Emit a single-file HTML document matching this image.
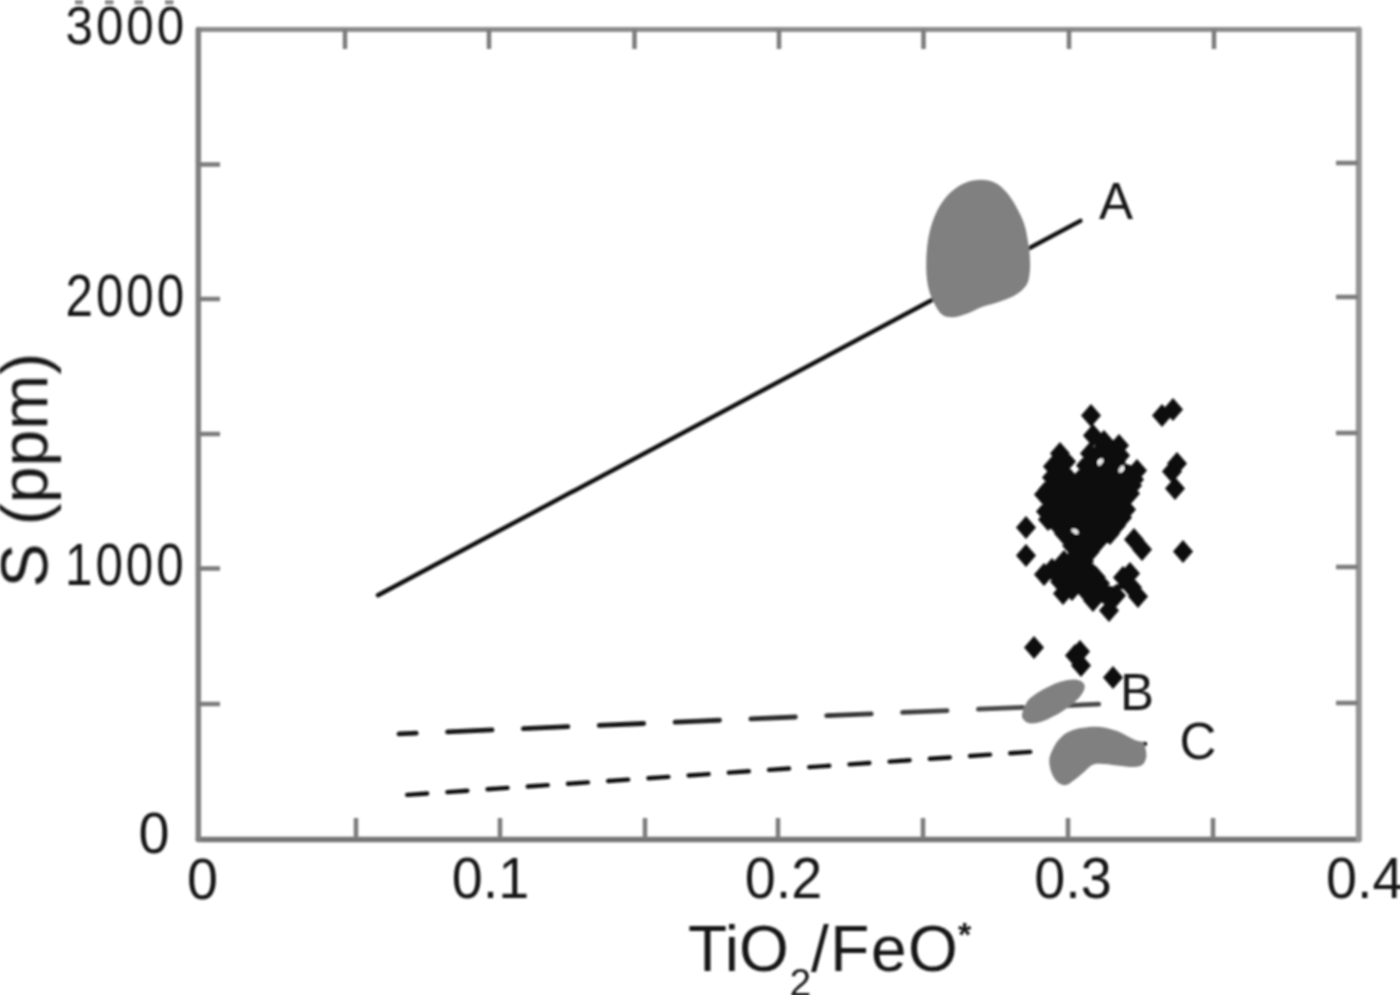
<!DOCTYPE html>
<html><head><meta charset="utf-8"><title>S vs TiO2/FeO*</title>
<style>
html,body{margin:0;padding:0;background:#fff;width:1400px;height:995px;overflow:hidden}
svg{display:block}
text{font-family:"Liberation Sans",Arial,Helvetica,sans-serif}
</style></head><body>
<svg width="1400" height="995" viewBox="0 0 1400 995">
<defs><filter id="soft" x="-2%" y="-2%" width="104%" height="104%"><feGaussianBlur stdDeviation="1.3"/></filter><linearGradient id="gB" gradientUnits="userSpaceOnUse" x1="600" y1="0" x2="1000" y2="0"><stop offset="0" stop-color="#141414"/><stop offset="1" stop-color="#4a4a4a"/></linearGradient></defs>
<rect width="1400" height="995" fill="#fff"/>
<g filter="url(#soft)">
<!-- faint marks at top -->
<g fill="#8c8c8c">
<rect x="75" y="0" width="8" height="4.5"/><rect x="105" y="0" width="8.5" height="4.5"/>
<rect x="134.5" y="0" width="8.5" height="4.5"/><rect x="165" y="0" width="8.5" height="4.5"/>
</g>
<!-- lines A, B, C -->
<g id="lines" fill="none" stroke="#111" stroke-width="4.4" stroke-linecap="round">
<line x1="378" y1="595.3" x2="1080.4" y2="220.9" stroke-linecap="round"/>
<line id="lB" stroke="url(#gB)" stroke-width="4.8" x1="399" y1="733.9" x2="1101" y2="704" stroke-dasharray="44.5 31.4" stroke-dashoffset="27.3"/>
<line id="lC" x1="405" y1="795" x2="1036" y2="751.5" stroke-dasharray="20 20.3" stroke-dashoffset="-2.2"/>
<line x1="1070" y1="749.2" x2="1145" y2="744"/>
</g>
<!-- gray fields -->
<g id="blobs" fill="#808080">
<path id="blobA" d="M981.0,179.7 C986.1,179.7 991.1,180.7 995.4,182.9 C999.7,185.0 1003.2,188.5 1006.7,192.5 C1010.2,196.5 1013.4,201.6 1016.4,207.0 C1019.3,212.4 1022.4,218.5 1024.4,224.7 C1026.4,230.9 1027.5,238.1 1028.4,244.0 C1029.4,249.9 1029.8,255.0 1030.0,260.1 C1030.2,265.2 1030.2,270.3 1029.5,274.6 C1028.9,278.9 1028.5,282.3 1026.0,285.8 C1023.5,289.3 1019.3,292.8 1014.7,295.5 C1010.2,298.2 1004.0,300.0 998.7,301.9 C993.3,303.8 987.7,304.9 982.6,306.7 C977.5,308.6 972.9,311.4 968.1,313.2 C963.3,314.9 957.9,316.9 953.6,317.2 C949.3,317.5 945.6,317.1 942.3,314.8 C939.1,312.5 936.6,307.8 934.3,303.5 C932.0,299.2 930.0,294.7 928.7,289.0 C927.3,283.4 926.5,276.7 926.3,269.7 C926.0,262.8 926.3,254.5 927.1,247.2 C927.9,240.0 929.1,233.0 931.1,226.3 C933.1,219.6 935.9,212.6 939.1,207.0 C942.3,201.4 946.1,196.5 950.4,192.5 C954.7,188.5 959.8,185.0 964.9,182.9 C970.0,180.7 975.9,179.7 981.0,179.7Z"/>
<path id="blobB" d="M1022.9,718.8 C1024.0,720.4 1026.1,722.9 1029.3,723.3 C1032.5,723.8 1037.8,722.7 1042.1,721.4 C1046.4,720.1 1051.2,717.6 1055.0,715.6 C1058.7,713.7 1061.6,711.9 1064.6,709.8 C1067.6,707.8 1070.3,705.8 1073.0,703.4 C1075.7,701.1 1078.8,698.3 1080.7,695.7 C1082.6,693.1 1084.2,690.2 1084.6,688.0 C1084.9,685.7 1084.3,683.6 1082.6,682.2 C1080.9,680.8 1077.8,679.7 1074.3,679.6 C1070.7,679.5 1065.7,680.4 1061.4,681.6 C1057.1,682.7 1052.3,685.0 1048.6,686.7 C1044.8,688.4 1042.1,689.8 1038.9,691.9 C1035.7,693.9 1031.6,696.6 1029.3,698.9 C1026.9,701.3 1026.0,703.5 1024.8,706.0 C1023.6,708.5 1022.5,711.6 1022.2,713.7 C1021.9,715.8 1021.7,717.2 1022.9,718.8Z"/>
<path id="blobC" d="M1068.3,732.0 C1071.8,730.4 1077.6,728.6 1082.8,727.7 C1088.1,726.9 1094.3,726.3 1100.0,726.9 C1105.7,727.4 1111.4,729.0 1117.1,731.1 C1122.8,733.3 1130.0,737.9 1134.3,739.7 C1138.5,741.6 1141.0,740.9 1142.8,742.3 C1144.7,743.7 1144.8,745.8 1145.4,748.3 C1146.0,750.7 1146.7,754.1 1146.3,756.8 C1145.8,759.6 1144.8,762.8 1142.8,764.6 C1140.8,766.3 1138.5,767.0 1134.3,767.1 C1130.0,767.3 1122.8,766.0 1117.1,765.4 C1111.4,764.8 1104.3,763.7 1100.0,763.7 C1095.7,763.7 1094.3,763.8 1091.4,765.4 C1088.6,767.0 1085.7,770.7 1082.8,773.1 C1080.0,775.6 1077.1,778.0 1074.3,780.0 C1071.4,782.0 1068.6,784.8 1065.7,785.1 C1062.9,785.4 1059.6,784.0 1057.1,781.7 C1054.7,779.4 1052.4,775.3 1051.1,771.4 C1049.9,767.6 1048.9,762.8 1049.4,758.6 C1050.0,754.3 1052.6,749.3 1054.6,745.7 C1056.6,742.1 1059.1,739.4 1061.4,737.1 C1063.7,734.9 1064.7,733.6 1068.3,732.0Z"/>
</g>
<!-- frame -->
<g fill="none" stroke-linecap="round">
<line x1="198.3" y1="29.6" x2="1358.6" y2="29.6" stroke="#8c8c8c" stroke-width="5"/>
<line x1="198.3" y1="839.6" x2="1358.6" y2="839.6" stroke="#757575" stroke-width="5.5"/>
<line x1="198.3" y1="29.6" x2="198.3" y2="839.6" stroke="#808080" stroke-width="5.5"/>
<line x1="1358.8" y1="29.6" x2="1358.8" y2="839.6" stroke="#959595" stroke-width="6"/>
</g>
<g fill="none" stroke="#7b7b7b" stroke-width="4.5">
<path d="M198,164.5 H220 M198,299 H220 M198,434 H220 M198,568.5 H220 M198,704 H220"/>
<path d="M1336,163 H1358 M1336,297 H1358 M1336,433 H1358 M1336,567 H1358 M1336,703 H1358"/>
<path d="M345,29.6 V49 M489,29.6 V49 M634.5,29.6 V49 M779,29.6 V49 M923.5,29.6 V49 M1069,29.6 V49 M1214,29.6 V49"/>
<path d="M356,818 V839 M500,818 V839 M645,818 V839 M778,818 V839 M923,818 V839 M1068,818 V839 M1213,818 V839"/>
</g>
<!-- diamonds -->
<g id="pts" fill="#0c0c0c"><path d="M1091,404l10 11.5l-10 11.5l-10-11.5zM1093,424l10 11.5l-10 11.5l-10-11.5zM1090,442l10 11.5l-10 11.5l-10-11.5zM1060,442l10 11.5l-10 11.5l-10-11.5zM1053,455l10 11.5l-10 11.5l-10-11.5zM1119,434l10 11.5l-10 11.5l-10-11.5zM1137,459l10 11.5l-10 11.5l-10-11.5zM1044,483l10 11.5l-10 11.5l-10-11.5zM1044,563l10 11.5l-10 11.5l-10-11.5zM1063,582l10 11.5l-10 11.5l-10-11.5zM1093,589l10 11.5l-10 11.5l-10-11.5zM1109,599l10 11.5l-10 11.5l-10-11.5zM1138,585l10 11.5l-10 11.5l-10-11.5zM1130,562l10 11.5l-10 11.5l-10-11.5zM1123,566l10 11.5l-10 11.5l-10-11.5zM1086,454l10 11.5l-10 11.5l-10-11.5zM1104,430l10 11.5l-10 11.5l-10-11.5zM1096,566l10 11.5l-10 11.5l-10-11.5zM1060,570l10 11.5l-10 11.5l-10-11.5zM1116,584l10 11.5l-10 11.5l-10-11.5zM1064,522l10 11.5l-10 11.5l-10-11.5zM1116,514l10 11.5l-10 11.5l-10-11.5zM1132,576l10 11.5l-10 11.5l-10-11.5zM1090,540l10 11.5l-10 11.5l-10-11.5zM1090,560l10 11.5l-10 11.5l-10-11.5zM1064,550l10 11.5l-10 11.5l-10-11.5zM1070,528l10 11.5l-10 11.5l-10-11.5zM1122,506l10 11.5l-10 11.5l-10-11.5zM1098,530l10 11.5l-10 11.5l-10-11.5zM1100,572l10 11.5l-10 11.5l-10-11.5zM1066,450l10 11.5l-10 11.5l-10-11.5zM1048,478l10 11.5l-10 11.5l-10-11.5zM1126,498l10 11.5l-10 11.5l-10-11.5zM1110,522l10 11.5l-10 11.5l-10-11.5zM1134,468l10 11.5l-10 11.5l-10-11.5zM1048,508l10 11.5l-10 11.5l-10-11.5zM1132,474l10 11.5l-10 11.5l-10-11.5zM1084,550l10 11.5l-10 11.5l-10-11.5zM1130,482l10 11.5l-10 11.5l-10-11.5zM1072,534l10 11.5l-10 11.5l-10-11.5zM1046,500l10 11.5l-10 11.5l-10-11.5zM1052,466l10 11.5l-10 11.5l-10-11.5zM1088,582l10 11.5l-10 11.5l-10-11.5zM1052,558l10 11.5l-10 11.5l-10-11.5zM1060,516l10 11.5l-10 11.5l-10-11.5zM1072,578l10 11.5l-10 11.5l-10-11.5zM1120,444l10 11.5l-10 11.5l-10-11.5zM1088,460l10 11.5l-10 11.5l-10-11.5zM1082,466l10 11.5l-10 11.5l-10-11.5zM1068,466l10 11.5l-10 11.5l-10-11.5zM1106,438l10 11.5l-10 11.5l-10-11.5zM1110,510l10 11.5l-10 11.5l-10-11.5zM1082,560l10 11.5l-10 11.5l-10-11.5zM1116,450l10 11.5l-10 11.5l-10-11.5zM1056,476l10 11.5l-10 11.5l-10-11.5zM1088,530l10 11.5l-10 11.5l-10-11.5zM1068,514l10 11.5l-10 11.5l-10-11.5zM1120,494l10 11.5l-10 11.5l-10-11.5zM1052,496l10 11.5l-10 11.5l-10-11.5zM1098,520l10 11.5l-10 11.5l-10-11.5zM1126,468l10 11.5l-10 11.5l-10-11.5zM1070,566l10 11.5l-10 11.5l-10-11.5zM1094,462l10 11.5l-10 11.5l-10-11.5zM1076,474l10 11.5l-10 11.5l-10-11.5zM1120,482l10 11.5l-10 11.5l-10-11.5zM1060,482l10 11.5l-10 11.5l-10-11.5zM1110,500l10 11.5l-10 11.5l-10-11.5zM1064,506l10 11.5l-10 11.5l-10-11.5zM1086,474l10 11.5l-10 11.5l-10-11.5zM1110,454l10 11.5l-10 11.5l-10-11.5zM1088,520l10 11.5l-10 11.5l-10-11.5zM1118,470l10 11.5l-10 11.5l-10-11.5zM1100,464l10 11.5l-10 11.5l-10-11.5zM1100,508l10 11.5l-10 11.5l-10-11.5zM1072,506l10 11.5l-10 11.5l-10-11.5zM1076,482l10 11.5l-10 11.5l-10-11.5zM1110,490l10 11.5l-10 11.5l-10-11.5zM1078,508l10 11.5l-10 11.5l-10-11.5zM1094,476l10 11.5l-10 11.5l-10-11.5zM1098,500l10 11.5l-10 11.5l-10-11.5zM1066,490l10 11.5l-10 11.5l-10-11.5zM1108,482l10 11.5l-10 11.5l-10-11.5zM1084,486l10 11.5l-10 11.5l-10-11.5zM1090,502l10 11.5l-10 11.5l-10-11.5zM1162,404l10 11.5l-10 11.5l-10-11.5zM1173,398l10 11.5l-10 11.5l-10-11.5zM1177,452l10 11.5l-10 11.5l-10-11.5zM1172,460l10 11.5l-10 11.5l-10-11.5zM1175,477l10 11.5l-10 11.5l-10-11.5zM1183,540l10 11.5l-10 11.5l-10-11.5zM1026,516l10 11.5l-10 11.5l-10-11.5zM1026,544l10 11.5l-10 11.5l-10-11.5zM1134,528l10 11.5l-10 11.5l-10-11.5zM1142,538l10 11.5l-10 11.5l-10-11.5zM1034,636l10 11.5l-10 11.5l-10-11.5zM1080,640l10 11.5l-10 11.5l-10-11.5zM1075,644l10 11.5l-10 11.5l-10-11.5zM1081,654l10 11.5l-10 11.5l-10-11.5zM1113,666l10 11.5l-10 11.5l-10-11.5z"/>
<path fill-rule="evenodd" d="M1093.1,417.2 L1092.1,418.5 L1092.3,418.9ZM1095.9,442.1 L1088.3,465.2 L1078.4,475.1 L1073.6,475.8 L1069.6,473.3 L1067.3,464.5 L1060.1,453.8 L1051.3,466.0 L1052.0,471.7 L1049.5,486.9 L1043.0,496.4 L1046.0,515.6 L1048.8,522.9 L1053.2,527.3 L1063.8,531.0 L1070.5,539.0 L1071.7,543.0 L1065.2,561.5 L1045.4,571.0 L1048.8,573.9 L1060.0,579.2 L1066.1,588.4 L1072.7,591.6 L1087.5,594.4 L1104.2,604.0 L1107.9,607.5 L1110.6,604.1 L1115.1,592.9 L1117.8,590.0 L1122.4,589.1 L1133.5,592.0 L1128.5,584.3 L1129.5,577.2 L1113.8,586.7 L1100.4,584.2 L1088.8,572.0 L1084.7,563.9 L1084.5,559.6 L1090.4,547.8 L1098.8,539.5 L1107.7,536.8 L1115.4,522.9 L1122.5,515.7 L1129.5,501.6 L1130.6,490.7 L1136.6,472.3 L1132.0,465.8 L1125.1,463.6 L1122.6,461.5 L1121.3,457.7 L1122.0,451.4 L1116.0,443.9 L1104.8,444.2 L1096.7,435.7ZM1124.8,468.6 L1124.1,471.1 L1121.7,472.5 L1119.2,471.8 L1117.8,469.4 L1118.5,466.9 L1120.9,465.5 L1123.4,466.2ZM1104.0,461.6 L1103.3,464.1 L1100.9,465.5 L1098.4,464.8 L1097.0,462.4 L1097.7,459.9 L1100.1,458.5 L1102.6,459.2ZM1078.5,531.0 L1077.8,533.5 L1075.4,534.9 L1072.9,534.2 L1071.5,531.8 L1072.2,529.3 L1074.6,527.9 L1077.1,528.6Z"/>
<ellipse cx="1100.5" cy="462" rx="2" ry="4" fill="#e8e8e8" transform="rotate(30 1100.5 462)"/><ellipse cx="1121.3" cy="469" rx="2" ry="4" fill="#e8e8e8" transform="rotate(30 1121.3 469)"/><ellipse cx="1075" cy="531.4" rx="4" ry="2" fill="#e8e8e8" transform="rotate(30 1075 531.4)"/></g>
<!-- tick labels -->
<g fill="#181818" font-size="59.5" letter-spacing="3.5">
<text transform="translate(187 44) scale(0.83 0.9)" text-anchor="end">3000</text>
<text transform="translate(187 316) scale(0.83 1)" text-anchor="end">2000</text>
<text transform="translate(186.5 585) scale(0.83 1)" text-anchor="end">1000</text>
</g>
<g fill="#181818" font-size="57.5">
<text transform="translate(169.5 853) scale(0.97 1)" text-anchor="end">0</text>
<text transform="translate(202.5 898.5) scale(0.97 1)" text-anchor="middle">0</text>
<text transform="translate(490.5 898.3) scale(0.97 1)" text-anchor="middle">0.1</text>
<text transform="translate(783.5 898.3) scale(0.97 1)" text-anchor="middle">0.2</text>
<text transform="translate(1073 898.3) scale(0.97 1)" text-anchor="middle">0.3</text>
<text transform="translate(1326 898.3) scale(0.97 1)">0.4</text>
</g>
<g fill="#181818" font-size="51">
<text x="1099" y="218.7">A</text>
<text x="1120" y="709.5">B</text>
<text x="1179.5" y="758.7">C</text>
</g>
<!-- axis titles -->
<g fill="#181818" font-size="64">
<text x="688" y="970.5">TiO</text>
<text x="789.5" y="996" font-size="39">2</text>
<text x="811" y="970.5" letter-spacing="1.5">/FeO</text>
<text x="958" y="945.5" font-size="34" font-weight="bold">*</text>
</g>
<text transform="translate(47.3,587.5) rotate(-90)" fill="#181818" font-size="66">S (ppm)</text>
</g>
</svg>
</body></html>
